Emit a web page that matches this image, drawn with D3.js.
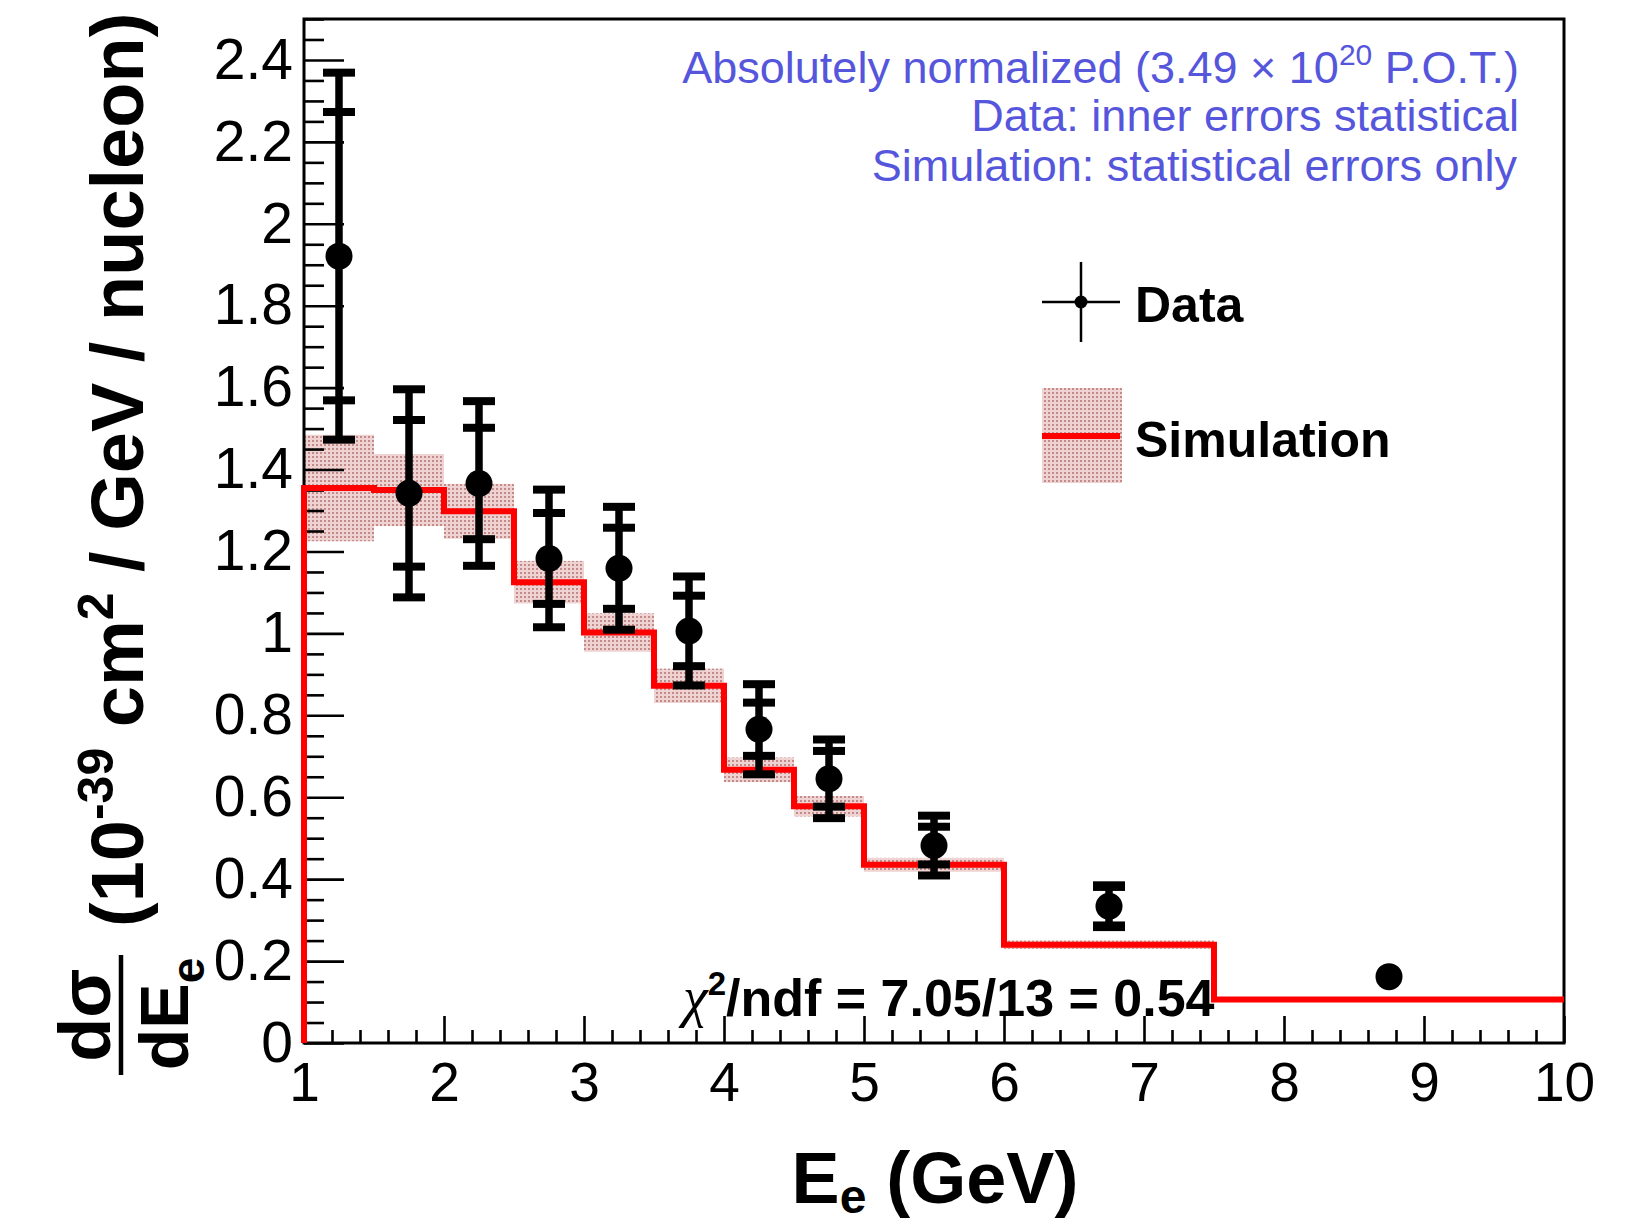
<!DOCTYPE html>
<html>
<head>
<meta charset="utf-8">
<script src="https://cdn.jsdelivr.net/npm/d3@7"></script>
<style>
  html, body { margin: 0; padding: 0; background: #fff; }
  svg { display: block; }
  text { font-family: "Liberation Sans", Arial, Helvetica, sans-serif; }
</style>
</head>
<body>
<svg id="chart" width="1629" height="1228"></svg>
<script>
// ---------------- data ----------------
const simEdges  = [1, 1.5, 2, 2.5, 3, 3.5, 4, 4.5, 5, 6, 7.5, 10];
const simValues = [1.355, 1.350, 1.298, 1.125, 1.002, 0.872, 0.667, 0.578, 0.435, 0.240, 0.106];
const simErrors = [0.130, 0.088, 0.067, 0.052, 0.047, 0.042, 0.030, 0.025, 0.017, 0.010, 0.004];

const dataX      = [1.25, 1.75, 2.25, 2.75, 3.25, 3.75, 4.25, 4.75, 5.5, 6.75, 8.75];
const dataY      = [1.921, 1.342, 1.366, 1.183, 1.159, 1.006, 0.766, 0.645, 0.482, 0.334, 0.162];
const dataStat   = [0.352, 0.179, 0.136, 0.111, 0.099, 0.086, 0.065, 0.068, 0.046, 0.047, 0.008];
const dataTotal  = [0.448, 0.254, 0.201, 0.168, 0.150, 0.133, 0.110, 0.096, 0.073, 0.051, 0.012];

const xTickValues = [1, 2, 3, 4, 5, 6, 7, 8, 9, 10];
const xTickLabels = ["1", "2", "3", "4", "5", "6", "7", "8", "9", "10"];
const yTickValues = [0, 0.2, 0.4, 0.6, 0.8, 1.0, 1.2, 1.4, 1.6, 1.8, 2.0, 2.2, 2.4];
const yTickLabels = ["0", "0.2", "0.4", "0.6", "0.8", "1", "1.2", "1.4", "1.6", "1.8", "2", "2.2", "2.4"];

const infoLines = ["Absolutely normalized (3.49 \u00D7 10", "20", " P.O.T.)",
                   "Data: inner errors statistical",
                   "Simulation: statistical errors only"];
const chi2Text = ["\u03C7", "2", "/ndf = 7.05/13 = 0.54"];
const legendLabels = ["Data", "Simulation"];

// ---------------- layout ----------------
const L = 304, R = 1564, T = 19, B = 1043;
const svg = d3.select("#chart");
const x = d3.scaleLinear().domain([1, 10]).range([L, R]);
const y = d3.scaleLinear().domain([0, 2.5]).range([B, T]);

const defs = svg.append("defs");
const pat = defs.append("pattern").attr("id", "dots")
  .attr("width", 4).attr("height", 4).attr("patternUnits", "userSpaceOnUse");
pat.append("rect").attr("width", 4).attr("height", 4).attr("fill", "#efd3d3");
pat.append("rect").attr("width", 2).attr("height", 2).attr("fill", "#c38a8a");

// simulation error band
const bins = simValues.map((v, i) => ({x0: simEdges[i], x1: simEdges[i + 1], v, e: simErrors[i]}));
svg.append("g").selectAll("rect").data(bins).join("rect")
  .attr("x", d => x(d.x0)).attr("width", d => x(d.x1) - x(d.x0))
  .attr("y", d => y(d.v + d.e)).attr("height", d => Math.max(1.5, y(d.v - d.e) - y(d.v + d.e)))
  .attr("fill", "url(#dots)");

// axes
const minorY = d3.range(0, 2.5001, 0.05).map(v => +v.toFixed(2)).filter(v => !yTickValues.some(t => Math.abs(t - v) < 1e-6));
const minorX = d3.range(1, 10.0001, 0.2).map(v => +v.toFixed(2)).filter(v => !xTickValues.some(t => Math.abs(t - v) < 1e-6));

const yAxis = svg.append("g").attr("transform", `translate(${L},0)`)
  .call(d3.axisLeft(y).tickValues(yTickValues).tickSize(-40).tickPadding(11)
        .tickFormat((d, i) => yTickLabels[i]));
const yMinor = svg.append("g").attr("transform", `translate(${L},0)`)
  .call(d3.axisLeft(y).tickValues(minorY).tickSize(-20).tickFormat(""));
const xAxis = svg.append("g").attr("transform", `translate(0,${B})`)
  .call(d3.axisBottom(x).tickValues(xTickValues).tickSize(-27).tickPadding(19)
        .tickFormat((d, i) => xTickLabels[i]));
const xMinor = svg.append("g").attr("transform", `translate(0,${B})`)
  .call(d3.axisBottom(x).tickValues(minorX).tickSize(-13).tickFormat(""));

[yAxis, yMinor, xAxis, xMinor].forEach(g => {
  g.select(".domain").remove();
  g.selectAll("line").attr("stroke", "#000").attr("stroke-width", 2.6);
  g.selectAll("text").attr("fill", "#000").attr("font-family", "Liberation Sans, Arial, sans-serif");
});
yAxis.selectAll("text").attr("font-size", 57);
xAxis.selectAll("text").attr("font-size", 55);

// frame
svg.append("rect").attr("x", L).attr("y", T).attr("width", R - L).attr("height", B - T)
  .attr("fill", "none").attr("stroke", "#000").attr("stroke-width", 3);

// simulation histogram line
const stepPts = [[simEdges[0], 0]].concat(simValues.map((v, i) => [simEdges[i], v]))
  .concat([[simEdges[simEdges.length - 1], simValues[simValues.length - 1]]]);
svg.append("path")
  .attr("d", d3.line().x(d => x(d[0])).y(d => y(d[1])).curve(d3.curveStepAfter)(stepPts))
  .attr("fill", "none").attr("stroke", "#ff0000").attr("stroke-width", 6);

// data points
const R_MARK = 13.5;
const pts = dataX.map((xv, i) => ({x: xv, y: dataY[i], s: dataStat[i], t: dataTotal[i]}));
const gd = svg.append("g");
pts.forEach(p => {
  const cx = x(p.x);
  if (y(p.y) - y(p.y + p.t) > R_MARK) {
    gd.append("line").attr("x1", cx).attr("x2", cx).attr("y1", y(p.y + p.t)).attr("y2", y(p.y - p.t))
      .attr("stroke", "#000").attr("stroke-width", 7.5);
    [p.y + p.t, p.y - p.t, p.y + p.s, p.y - p.s].forEach(v => {
      gd.append("line").attr("x1", cx - 16).attr("x2", cx + 16).attr("y1", y(v)).attr("y2", y(v))
        .attr("stroke", "#000").attr("stroke-width", 8);
    });
  }
  gd.append("circle").attr("cx", cx).attr("cy", y(p.y)).attr("r", R_MARK).attr("fill", "#000");
});

// info text (blue)
const blue = "#5656dc";
const t1 = svg.append("text").attr("x", 1519).attr("y", 83).attr("text-anchor", "end")
  .attr("font-size", 45).attr("fill", blue);
t1.append("tspan").text(infoLines[0]);
t1.append("tspan").attr("dy", -18).attr("font-size", 30).text(infoLines[1]);
t1.append("tspan").attr("dy", 18).text(infoLines[2]);
svg.append("text").attr("x", 1519).attr("y", 131).attr("text-anchor", "end")
  .attr("font-size", 45).attr("fill", blue).text(infoLines[3]);
svg.append("text").attr("x", 1517).attr("y", 181).attr("text-anchor", "end")
  .attr("font-size", 45).attr("fill", blue).text(infoLines[4]);

// legend
const lg = svg.append("g");
lg.append("line").attr("x1", 1042).attr("x2", 1120).attr("y1", 302).attr("y2", 302).attr("stroke", "#000").attr("stroke-width", 2.5);
lg.append("line").attr("x1", 1081).attr("x2", 1081).attr("y1", 262).attr("y2", 342).attr("stroke", "#000").attr("stroke-width", 2.5);
lg.append("circle").attr("cx", 1081).attr("cy", 302).attr("r", 6.5).attr("fill", "#000");
lg.append("text").attr("x", 1135).attr("y", 322).attr("font-size", 50).attr("font-weight", "bold").text(legendLabels[0]);
lg.append("rect").attr("x", 1042).attr("y", 388).attr("width", 80).attr("height", 95).attr("fill", "url(#dots)");
lg.append("line").attr("x1", 1042).attr("x2", 1120).attr("y1", 436).attr("y2", 436).attr("stroke", "#ff0000").attr("stroke-width", 6);
lg.append("text").attr("x", 1135).attr("y", 457).attr("font-size", 50).attr("font-weight", "bold").text(legendLabels[1]);

// chi2 text
const ct = svg.append("text").attr("x", 683).attr("y", 1016).attr("font-size", 52).attr("font-weight", "bold");
ct.append("tspan").attr("font-family", "Liberation Serif, serif").attr("font-style", "italic").attr("font-weight", "normal").attr("font-size", 56).text(chi2Text[0]);
ct.append("tspan").attr("dy", -21).attr("font-size", 33).text(chi2Text[1]);
ct.append("tspan").attr("dy", 21).text(chi2Text[2]);

// x-axis title
const xt = svg.append("text").attr("x", 935).attr("y", 1203).attr("text-anchor", "middle")
  .attr("font-size", 72).attr("font-weight", "bold");
xt.append("tspan").text("E");
xt.append("tspan").attr("dy", 10).attr("font-size", 48).text("e");
xt.append("tspan").attr("dy", -10).text(" (GeV)");

// y-axis title (rotated)
const yt = svg.append("g").attr("transform", "translate(0,1075) rotate(-90)");
yt.append("text").attr("x", 60).attr("y", 110).attr("text-anchor", "middle")
  .attr("font-size", 72).attr("font-weight", "bold").text("d\u03C3");
yt.append("line").attr("x1", 0).attr("x2", 120).attr("y1", 121).attr("y2", 121)
  .attr("stroke", "#000").attr("stroke-width", 4.5);
const de = yt.append("text").attr("x", 61).attr("y", 188).attr("text-anchor", "middle")
  .attr("font-size", 68).attr("font-weight", "bold");
de.append("tspan").text("dE");
de.append("tspan").attr("dy", 16).attr("font-size", 46).text("e");
const ym = yt.append("text").attr("x", 148).attr("y", 143)
  .attr("font-size", 74).attr("font-weight", "bold");
ym.append("tspan").text("(10");
ym.append("tspan").attr("dy", -30).attr("font-size", 50).text("-39");
ym.append("tspan").attr("dy", 30).text(" cm");
ym.append("tspan").attr("dy", -30).attr("font-size", 50).text("2");
ym.append("tspan").attr("dy", 30).text(" / GeV / nucleon)");
</script>
</body>
</html>
